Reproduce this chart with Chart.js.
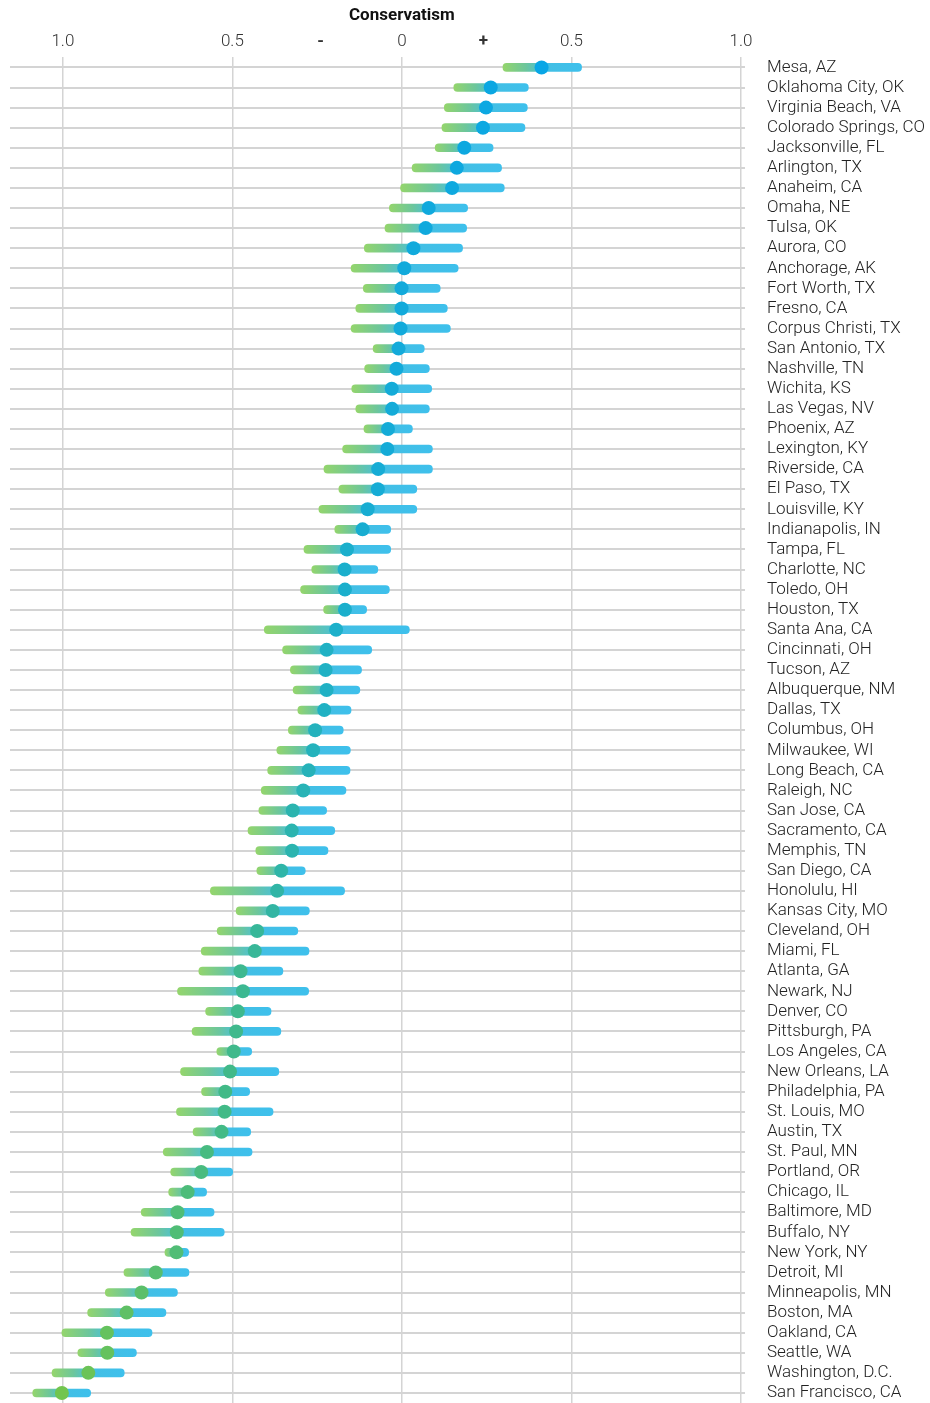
<!DOCTYPE html>
<html>
<head>
<meta charset="utf-8">
<script src="https://cdn.jsdelivr.net/npm/chart.js@4/dist/chart.umd.min.js"></script>
<style>
  html,body{margin:0;padding:0;background:#fff}
  #wrap{width:930px;height:1403px;position:relative}
</style>
</head>
<body>
<div id="wrap"><canvas id="chart"></canvas></div>
<script>
const axisTitle="Conservatism";
const xTickValues=[-1,-0.5,-0.24,0,0.24,0.5,1];
const xTickLabels=["1.0","0.5","-","0","+","0.5","1.0"];

const cities=["Mesa, AZ","Oklahoma City, OK","Virginia Beach, VA","Colorado Springs, CO","Jacksonville, FL","Arlington, TX","Anaheim, CA","Omaha, NE","Tulsa, OK","Aurora, CO",
  "Anchorage, AK","Fort Worth, TX","Fresno, CA","Corpus Christi, TX","San Antonio, TX","Nashville, TN","Wichita, KS","Las Vegas, NV","Phoenix, AZ","Lexington, KY",
  "Riverside, CA","El Paso, TX","Louisville, KY","Indianapolis, IN","Tampa, FL","Charlotte, NC","Toledo, OH","Houston, TX","Santa Ana, CA","Cincinnati, OH",
  "Tucson, AZ","Albuquerque, NM","Dallas, TX","Columbus, OH","Milwaukee, WI","Long Beach, CA","Raleigh, NC","San Jose, CA","Sacramento, CA","Memphis, TN",
  "San Diego, CA","Honolulu, HI","Kansas City, MO","Cleveland, OH","Miami, FL","Atlanta, GA","Newark, NJ","Denver, CO","Pittsburgh, PA","Los Angeles, CA",
  "New Orleans, LA","Philadelphia, PA","St. Louis, MO","Austin, TX","St. Paul, MN","Portland, OR","Chicago, IL","Baltimore, MD","Buffalo, NY","New York, NY",
  "Detroit, MI","Minneapolis, MN","Boston, MA","Oakland, CA","Seattle, WA","Washington, D.C.","San Francisco, CA"];

const lows=[0.298,0.153,0.125,0.118,0.098,0.030,-0.004,-0.037,-0.050,-0.111,
  -0.150,-0.114,-0.136,-0.150,-0.085,-0.110,-0.148,-0.136,-0.112,-0.175,
  -0.230,-0.186,-0.245,-0.198,-0.289,-0.266,-0.299,-0.231,-0.406,-0.352,
  -0.329,-0.321,-0.307,-0.335,-0.369,-0.396,-0.415,-0.422,-0.454,-0.431,
  -0.428,-0.565,-0.489,-0.545,-0.592,-0.599,-0.662,-0.579,-0.619,-0.546,
  -0.653,-0.591,-0.665,-0.616,-0.704,-0.682,-0.688,-0.769,-0.799,-0.699,
  -0.820,-0.875,-0.927,-1.003,-0.956,-1.032,-1.089];
const mids=[0.412,0.262,0.248,0.239,0.184,0.162,0.148,0.079,0.070,0.034,
  0.007,-0.001,-0.001,-0.004,-0.010,-0.016,-0.030,-0.029,-0.041,-0.043,
  -0.070,-0.071,-0.101,-0.116,-0.162,-0.169,-0.168,-0.168,-0.194,-0.222,
  -0.225,-0.222,-0.229,-0.256,-0.262,-0.275,-0.291,-0.322,-0.325,-0.324,
  -0.356,-0.368,-0.381,-0.427,-0.434,-0.476,-0.469,-0.484,-0.489,-0.496,
  -0.507,-0.521,-0.523,-0.532,-0.575,-0.592,-0.632,-0.662,-0.664,-0.665,
  -0.726,-0.768,-0.812,-0.870,-0.869,-0.925,-1.003];
const highs=[0.530,0.373,0.370,0.363,0.269,0.294,0.302,0.194,0.191,0.179,
  0.166,0.113,0.134,0.143,0.066,0.081,0.088,0.081,0.031,0.090,
  0.090,0.044,0.044,-0.033,-0.033,-0.071,-0.037,-0.104,0.022,-0.089,
  -0.119,-0.124,-0.150,-0.173,-0.152,-0.153,-0.165,-0.222,-0.198,-0.218,
  -0.285,-0.169,-0.273,-0.307,-0.274,-0.351,-0.275,-0.386,-0.357,-0.443,
  -0.363,-0.449,-0.380,-0.446,-0.442,-0.499,-0.576,-0.554,-0.524,-0.629,
  -0.628,-0.662,-0.696,-0.737,-0.783,-0.819,-0.918];

// dot colour ramp, green (liberal) -> blue (conservative)
const dotStops=[[-1,[114,197,78]],[-0.5,[64,185,138]],[-0.2,[29,176,201]],[0,[18,170,219]],[0.4,[8,166,230]]];
function dotColor(v){
  if(v<=dotStops[0][0]) return "rgb("+dotStops[0][1].join(",")+")";
  for(let i=1;i<dotStops.length;i++){
    const [v1,c1]=dotStops[i];
    if(v<=v1){
      const [v0,c0]=dotStops[i-1];
      const t=(v-v0)/(v1-v0);
      return "rgb("+c0.map((c,k)=>Math.round(c+(c1[k]-c)*t)).join(",")+")";
    }
  }
  return "rgb("+dotStops[dotStops.length-1][1].join(",")+")";
}

function barFill(context){
  const chart=context.chart;
  if(!chart.chartArea) return "#3fc0ea";
  const i=context.dataIndex, x=chart.scales.x;
  const l=x.getPixelForValue(lows[i]), r=x.getPixelForValue(highs[i]), m=x.getPixelForValue(mids[i]);
  const g=chart.ctx.createLinearGradient(l,0,r,0);
  const f=Math.min(Math.max((m-l)/(r-l)+0.04,0.05),1);
  g.addColorStop(0,"#94d56c");
  g.addColorStop(f*0.55,"#6cc69c");
  g.addColorStop(f,"#43bfe4");
  g.addColorStop(1,"#3ec0ec");
  return g;
}

const titlePlugin={
  id:"axisTitle",
  afterDraw(chart){
    const {ctx,scales:{x}}=chart;
    ctx.save();
    ctx.font="bold 17px Roboto";
    ctx.fillStyle="#111";
    ctx.textAlign="center";
    ctx.textBaseline="middle";
    ctx.fillText(axisTitle,x.getPixelForValue(0),16);
    ctx.restore();
  }
};

new Chart(document.getElementById("chart"),{
  type:"bar",
  data:{
    labels:cities,
    datasets:[
      {
        type:"line",
        indexAxis:"y",
        data:mids,
        showLine:false,
        pointRadius:7,
        pointHoverRadius:7,
        pointBorderWidth:0,
        pointBackgroundColor:mids.map(dotColor),
        clip:false,
        order:0
      },
      {
        data:cities.map((_,i)=>[lows[i],highs[i]]),
        backgroundColor:barFill,
        barThickness:8,
        borderRadius:4,
        borderSkipped:false,
        order:1
      }
    ]
  },
  options:{
    indexAxis:"y",
    responsive:true,
    maintainAspectRatio:false,
    animation:false,
    layout:{autoPadding:false,padding:{top:27,left:10,right:0,bottom:-1}},
    plugins:{legend:{display:false},tooltip:{enabled:false}},
    scales:{
      x:{
        type:"linear",
        position:"top",
        min:-1.156,
        max:1.012,
        afterBuildTicks:s=>{s.ticks=xTickValues.map(v=>({value:v}));},
        ticks:{
          padding:5,
          color:"#333",
          autoSkip:false,
          maxRotation:0,
          font:c=>{
            const v=c.tick?c.tick.value:0;
            return Math.abs(Math.abs(v)-0.24)<1e-6?{family:"Roboto",size:17,weight:"bold"}:{family:"Roboto",size:17,weight:"300"};
          },
          callback:(v)=>{const i=xTickValues.indexOf(v);return i<0?"":xTickLabels[i];}
        },
        grid:{
          drawTicks:false,
          lineWidth:1.5,
          color:c=>{const v=c.tick?c.tick.value:0;return Math.abs(Math.abs(v)-0.24)<1e-6?"rgba(0,0,0,0)":"#d4d4d4";}
        },
        border:{display:false}
      },
      y:{
        type:"category",
        position:"right",
        offset:true,
        afterFit:s=>{s.width=185;s.paddingTop=0;s.paddingBottom=0;},
        ticks:{padding:22,color:"#222",autoSkip:false,font:{family:"Roboto",size:17,weight:"300"}},
        grid:{offset:false,drawTicks:false,lineWidth:2,color:"#d4d4d4"},
        border:{display:false}
      }
    }
  },
  plugins:[titlePlugin]
});
</script>
</body>
</html>
